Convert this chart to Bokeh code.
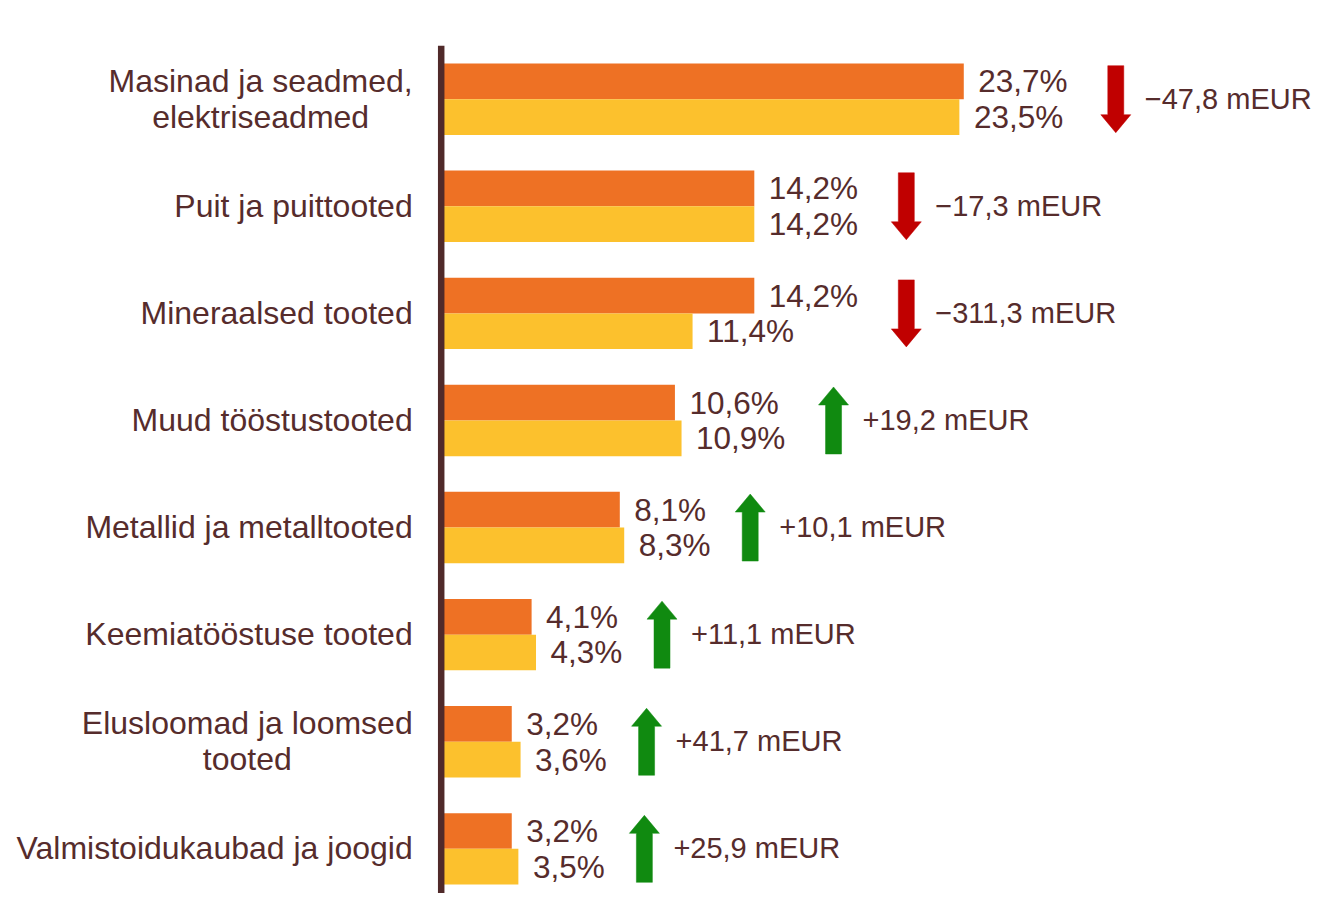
from bokeh.plotting import figure
from bokeh.models import Range1d, ColumnDataSource
from bokeh.embed import file_html
from bokeh.resources import INLINE
from bokeh.core.properties import value

# ---------------- data ----------------
categories = [
    "Masinad ja seadmed,\nelektriseadmed",
    "Puit ja puittooted",
    "Mineraalsed tooted",
    "Muud tööstustooted",
    "Metallid ja metalltooted",
    "Keemiatööstuse tooted",
    "Elusloomad ja loomsed\ntooted",
    "Valmistoidukaubad ja joogid",
]
share_a = [23.7, 14.2, 14.2, 10.6, 8.1, 4.1, 3.2, 3.2]   # orange bars (%)
share_b = [23.5, 14.2, 11.4, 10.9, 8.3, 4.3, 3.6, 3.5]   # yellow bars (%)
change_meur = [-47.8, -17.3, -311.3, 19.2, 10.1, 11.1, 41.7, 25.9]

# ---------------- style ----------------
FONT = "Liberation Sans"
TXT = "#562C2C"
AXIS = "#502A2A"
ORANGE = "#EE7124"
YELLOW = "#FCC12D"
RED = "#C00000"
GREEN = "#108A10"

W, H = 1315, 893
PX = 22.05     # px per % unit
PY = 107.09    # px per category
X0 = 440.7     # frame px of x=0
Y0 = 98.7      # frame px of first category centre

CAT_FS, PCT_FS, EUR_FS = 32, 31.5, 29

# Arial / Liberation Sans advance widths (em/1000) for label centring
ADV = {"M": 833, "a": 556, "s": 500, "i": 222, "n": 556, "d": 556, " ": 278,
       "j": 222, "e": 556, "m": 833, ",": 278, "E": 667, "l": 222, "u": 556,
       "o": 556, "t": 278, "k": 500, "r": 333}


def text_w(s, fs):
    return sum(ADV.get(c, 556) for c in s) / 1000.0 * fs


def fmt(v):
    return f"{v:.1f}".replace(".", ",")


p = figure(width=W, height=H, output_backend="svg", toolbar_location=None,
           x_range=Range1d(-X0 / PX, (W - X0) / PX),
           y_range=Range1d((H - Y0) / PY, -Y0 / PY),
           min_border=0, outline_line_color=None, background_fill_color="white",
           border_fill_color="white")
p.axis.visible = False
p.grid.visible = False

n = len(categories)
ys = list(range(n))
bh = 1.0 / 3.0

# bars
p.hbar(y=[y - bh / 2 for y in ys], left=0, right=share_a, height=bh,
       color=ORANGE, line_color=None)
p.hbar(y=[y + bh / 2 for y in ys], left=0, right=share_b, height=bh,
       color=YELLOW, line_color=None)

# vertical axis line
p.segment(x0=[0], y0=[-0.5], x1=[0], y1=[n - 0.5], line_color=AXIS,
          line_width=6.5)

# percentage labels
lab_a = [fmt(v) + "%" for v in share_a]
lab_b = [fmt(v) + "%" for v in share_b]
p.text(x=share_a, y=[y - bh / 2 for y in ys], text=lab_a, x_offset=14.5, y_offset=0,
       text_font=value(FONT), text_font_size=f"{PCT_FS}px", text_color=TXT,
       text_align="left", text_baseline="middle")
p.text(x=share_b, y=[y + bh / 2 for y in ys], text=lab_b, x_offset=14.5, y_offset=0,
       text_font=value(FONT), text_font_size=f"{PCT_FS}px", text_color=TXT,
       text_align="left", text_baseline="middle")

# category labels (multi-line labels centred as a block, right aligned)
lx, ly, lt, lo, la = [], [], [], [], []
for i, c in enumerate(categories):
    lines = c.split("\n")
    if len(lines) == 1:
        lx.append(0); ly.append(i); lt.append(c); lo.append(-28.5); la.append("right")
    else:
        w1 = text_w(lines[0], CAT_FS)
        lx.append(0); ly.append(i - 0.166); lt.append(lines[0]); lo.append(-28.5); la.append("right")
        lx.append(0); ly.append(i + 0.17); lt.append(lines[1]); lo.append(-28.5 - w1 / 2); la.append("center")
src_cat = ColumnDataSource(dict(x=lx, y=ly, t=lt, o=lo, a=la))
p.text(x="x", y="y", text="t", x_offset="o", text_align="a", source=src_cat,
       text_font=value(FONT), text_font_size=f"{CAT_FS}px", text_color=TXT,
       text_baseline="middle", y_offset=-0.5)

# arrows + change labels
ax, axs, ays, acol, elab = [], [], [], [], []
SHAFT, HEADW, HEADL, LEN = 16, 30, 18, 67
for i in range(n):
    L = max(len(lab_a[i]), len(lab_b[i]))
    xc = max(share_a[i], share_b[i]) + (22 + 26 * L) / PX
    ax.append(xc)
    hs, hh = SHAFT / 2 / PX, HEADW / 2 / PX
    half = LEN / 2 / PY
    hl = HEADL / PY
    if change_meur[i] < 0:   # down arrow
        top, tip = i - half, i + half
        base = tip - hl
        xs = [xc - hs, xc + hs, xc + hs, xc + hh, xc, xc - hh, xc - hs]
        yv = [top, top, base, base, tip, base, base]
        acol.append(RED)
        elab.append("\u2212" + fmt(abs(change_meur[i])) + " mEUR")
    else:                    # up arrow
        bot, tip = i + half, i - half
        base = tip + hl
        xs = [xc - hs, xc + hs, xc + hs, xc + hh, xc, xc - hh, xc - hs]
        yv = [bot, bot, base, base, tip, base, base]
        acol.append(GREEN)
        elab.append("+" + fmt(change_meur[i]) + " mEUR")
    axs.append(xs)
    ays.append(yv)

p.patches(xs=axs, ys=ays, fill_color=acol, line_color=acol, line_width=0.5)
p.text(x=ax, y=ys, text=elab, x_offset=29, y_offset=-0.5,
       text_font=value(FONT), text_font_size=f"{EUR_FS}px", text_color=TXT,
       text_align="left", text_baseline="middle")

open("out.html", "w").write(file_html(p, INLINE))
